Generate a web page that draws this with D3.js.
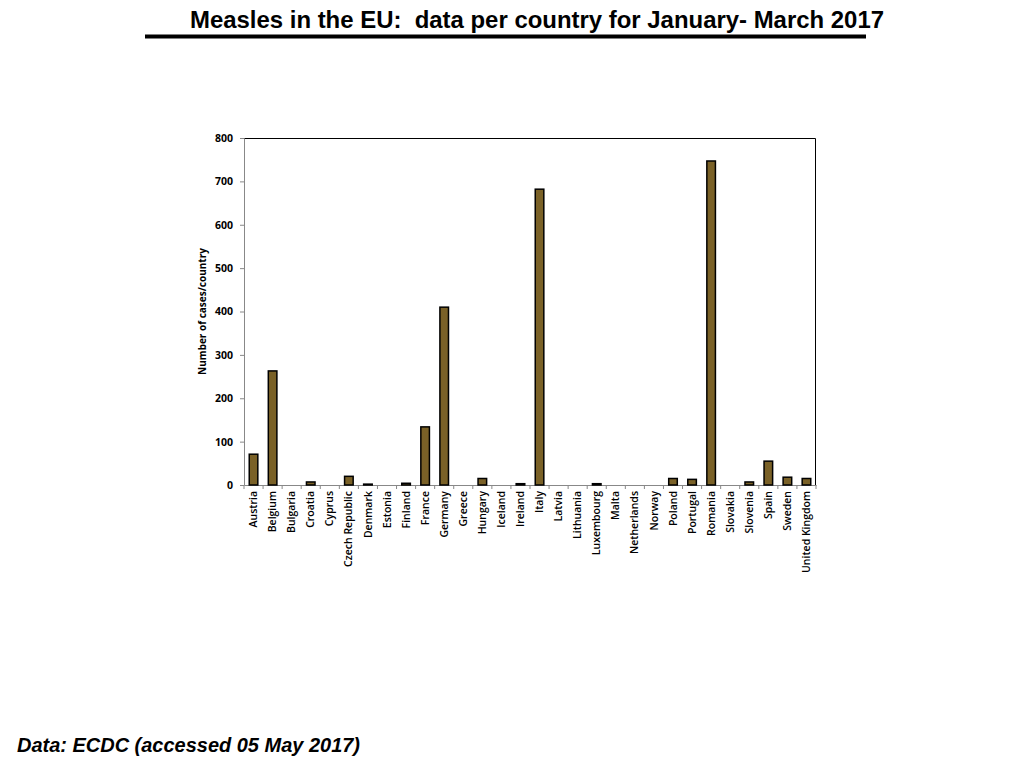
<!DOCTYPE html>
<html>
<head>
<meta charset="utf-8">
<script src="https://cdn.jsdelivr.net/npm/d3@7"></script>
<style>
  body { margin: 0; background: #fff; }
  svg { display: block; }
</style>
</head>
<body>
<div id="graph"></div>
<script>
// data
var countries = ["Austria", "Belgium", "Bulgaria", "Croatia", "Cyprus", "Czech Republic",
  "Denmark", "Estonia", "Finland", "France", "Germany", "Greece", "Hungary", "Iceland",
  "Ireland", "Italy", "Latvia", "Lithuania", "Luxembourg", "Malta", "Netherlands", "Norway",
  "Poland", "Portugal", "Romania", "Slovakia", "Slovenia", "Spain", "Sweden", "United Kingdom"];
var cases = [71, 263, 0, 7, 0, 20, 2, 0, 4, 134, 410, 0, 15, 0, 3, 682, 0, 0, 3, 0, 0, 0,
  15, 13, 747, 0, 7, 55, 18, 15];
var yTicks = [0, 100, 200, 300, 400, 500, 600, 700, 800];

var W = 1024, H = 768;
var margin = {left: 244, top: 138, right: 1024 - 816, bottom: 768 - 485};
var w = W - margin.left - margin.right,
    h = H - margin.top - margin.bottom;

var svg = d3.select("#graph").append("svg")
  .attr("width", W).attr("height", H);

// title + rule
svg.append("text")
  .attr("x", 537).attr("y", 28)
  .attr("text-anchor", "middle")
  .style("font-family", "Liberation Sans, Arial, sans-serif")
  .style("font-weight", "bold")
  .style("font-size", "24px")
  .style("white-space", "pre")
  .attr("textLength", 694)
  .attr("lengthAdjust", "spacingAndGlyphs")
  .text("Measles in the EU:  data per country for January- March 2017");

svg.append("line")
  .attr("x1", 145).attr("x2", 866)
  .attr("y1", 36.5).attr("y2", 36.5)
  .attr("stroke", "#000").attr("stroke-width", 4);

// footnote
svg.append("text")
  .attr("x", 17).attr("y", 752)
  .style("font-family", "Liberation Sans, Arial, sans-serif")
  .style("font-weight", "bold")
  .style("font-style", "italic")
  .style("font-size", "20px")
  .attr("textLength", 343)
  .attr("lengthAdjust", "spacingAndGlyphs")
  .text("Data: ECDC (accessed 05 May 2017)");

var g = svg.append("g")
  .attr("transform", "translate(" + margin.left + "," + margin.top + ")");

var x = d3.scaleBand()
  .domain(countries)
  .range([0, w])
  .paddingInner(0.55)
  .paddingOuter(0.275);

var y = d3.scaleLinear()
  .domain([0, 800])
  .range([h, 0]);

// frame: top and right edges
g.append("path")
  .attr("d", "M0,0.5H" + (w - 0.5) + "V" + h)
  .attr("fill", "none")
  .attr("stroke", "#000")
  .attr("stroke-width", 1);

// y axis
var yAxis = g.append("g")
  .call(d3.axisLeft(y).tickValues(yTicks).tickSize(4).tickPadding(7));
yAxis.select(".domain").attr("stroke", "#888");
yAxis.selectAll(".tick line").attr("stroke", "#888");
yAxis.selectAll("text")
  .style("font-family", "Open Sans, sans-serif")
  .style("font-weight", "bold")
  .style("font-size", "10.5px")
  .attr("fill", "#000");

// x axis, ticks between categories
var xAxis = g.append("g")
  .attr("transform", "translate(0," + h + ")")
  .call(d3.axisBottom(x).tickSize(0).tickPadding(6));
xAxis.select(".domain").attr("stroke", "#888");
xAxis.selectAll("text")
  .attr("transform", "rotate(-90)")
  .attr("text-anchor", "end")
  .attr("dx", "-6px")
  .attr("dy", "0.34em")
  .attr("x", 0).attr("y", 0)
  .style("font-family", "Open Sans, sans-serif")
  .style("font-weight", "600")
  .style("font-size", "10.5px")
  .attr("fill", "#000");

var step = x.step();
var bounds = d3.range(countries.length + 1).map(function(i) { return i * step; });
g.append("g").selectAll("line")
  .data(bounds)
  .enter().append("line")
  .attr("x1", function(d) { return d; })
  .attr("x2", function(d) { return d; })
  .attr("y1", h).attr("y2", h + 4)
  .attr("stroke", "#888");

// bars
g.append("g").selectAll("rect")
  .data(countries)
  .enter().append("rect")
  .attr("x", function(d) { return x(d); })
  .attr("width", x.bandwidth())
  .attr("y", function(d, i) { return y(cases[i]); })
  .attr("height", function(d, i) { return h - y(cases[i]); })
  .attr("fill", "#7a6127")
  .attr("stroke", "#000")
  .attr("stroke-width", 1.5)
  .style("display", function(d, i) { return cases[i] > 0 ? null : "none"; });

// y label
g.append("text")
  .attr("transform", "translate(-38," + (h / 2) + ") rotate(-90)")
  .attr("text-anchor", "middle")
  .style("font-family", "Open Sans, sans-serif")
  .style("font-weight", "bold")
  .style("font-size", "10px")
  .text("Number of cases/country");
</script>
</body>
</html>
